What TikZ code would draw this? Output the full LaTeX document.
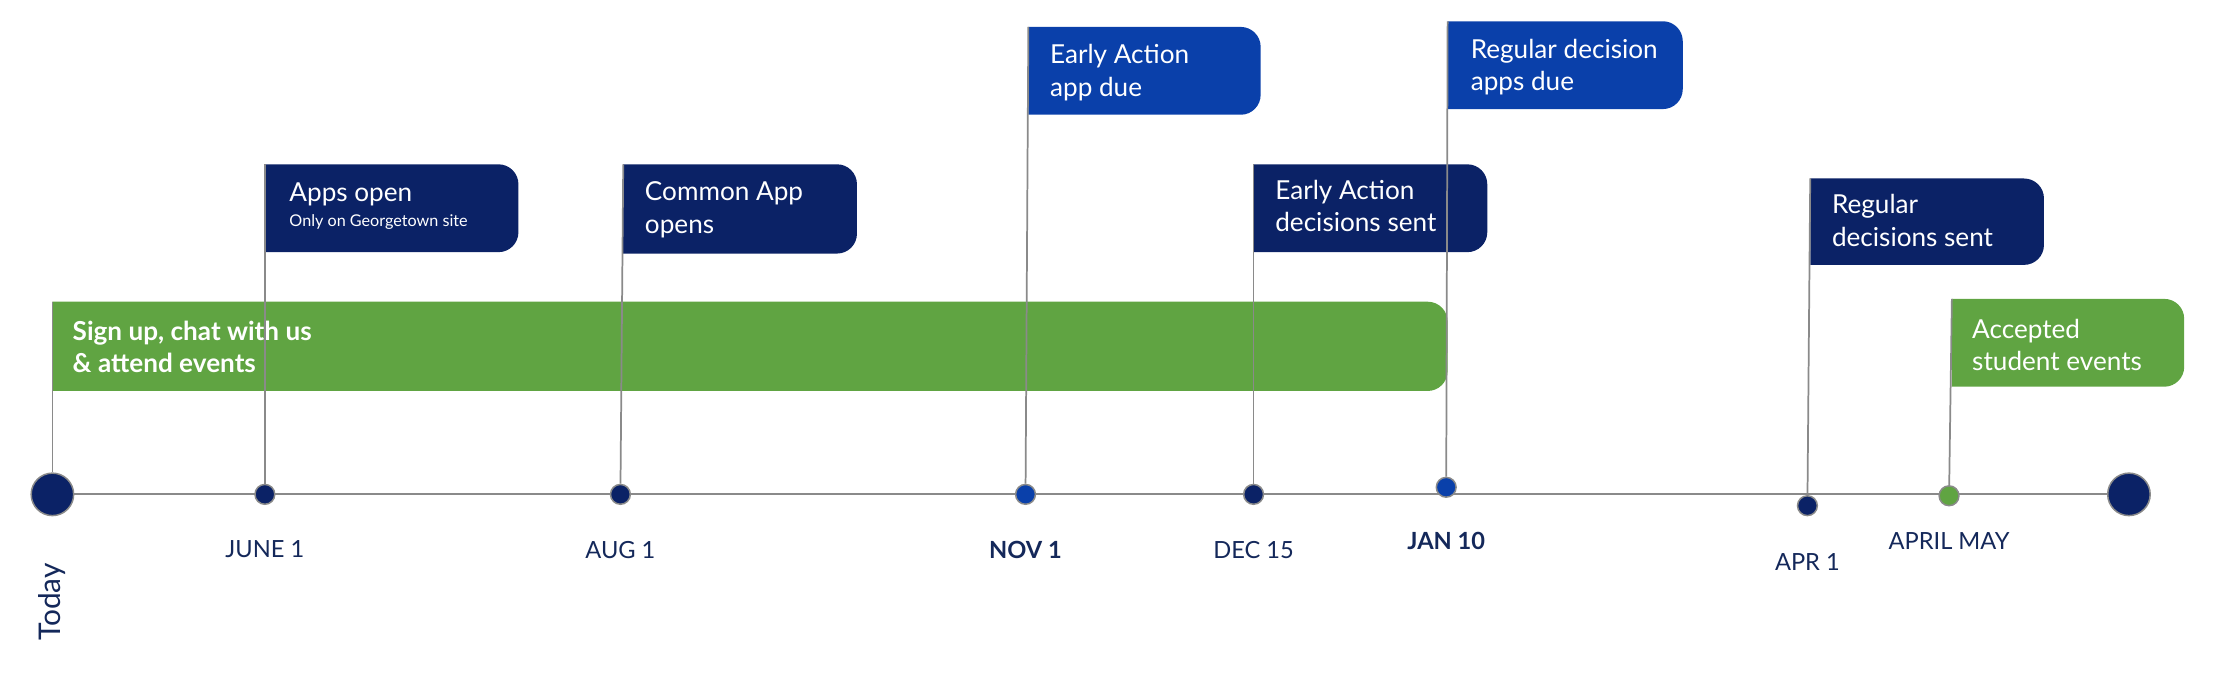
\documentclass[tikz,border=0pt]{standalone}
\usepackage{fontspec}
\setmainfont{Lato}
\definecolor{navy}{HTML}{0B2266}
\definecolor{royal}{HTML}{0A40AA}
\definecolor{leaf}{HTML}{60A442}
\definecolor{axis}{HTML}{8A8A8A}
\definecolor{ink}{HTML}{14285A}
\tikzset{
  dot/.style={circle, draw=axis, line width=0.6pt, inner sep=0pt, minimum size=#1},
  date/.style={text=ink, font=\fontsize{9.5}{11}\selectfont},
  flagtext/.style={anchor=north west, align=left, text=white, inner sep=0pt, font=\fontsize{10.5}{13}\selectfont},
  pole/.style={draw=axis, line width=0.7pt}
}
\newcommand{\flagbox}[5]{% x, y, w, h, colour
  \fill[#5] (#1,#2) [rounded corners=8pt] -- ++(#3,0) -- ++(0,#4) [sharp corners] -- (#1,#2+#4) -- cycle;}
\begin{document}
\begin{tikzpicture}[x=0.02cm, y=-0.02cm]
  \useasboundingbox (0,0) rectangle (1568,488);
  % Axis
  \coordinate (start) at (37,349);
  \coordinate (end) at (1503,349);
  \draw[axis, line width=0.8pt] (start) -- (end);
  % Dots
  \node (today) [dot=0.6cm, fill=navy] at (37,349) {};
  \node (last) [dot=0.6cm, fill=navy] at (1503,349) {};
  \node (d-jun) [dot=0.28cm, fill=navy] at (187,349) {};
  \node (d-aug) [dot=0.28cm, fill=navy] at (438,349) {};
  \node (d-nov) [dot=0.28cm, fill=royal] at (724,349) {};
  \node (d-dec) [dot=0.28cm, fill=navy] at (885,349) {};
  \node (d-jan) [dot=0.28cm, fill=royal] at (1021,344) {};
  \node (d-apr) [dot=0.28cm, fill=navy] at (1276,357) {};
  \node (d-may) [dot=0.28cm, fill=leaf] at (1376,350) {};
  % Dates
  \node (l-today) [date, rotate=90, font=\fontsize{12}{14}\selectfont] at (37,425) {Today};
  \node (l-jun) [date] at (187,388) {JUNE 1};
  \node (l-aug) [date] at (438,388) {AUG 1};
  \node (l-nov) [date, font=\fontsize{9.5}{11}\bfseries] at (724,388) {NOV 1};
  \node (l-dec) [date] at (885,388) {DEC 15};
  \node (l-jan) [date, font=\fontsize{9.5}{11}\bfseries] at (1021,382) {JAN 10};
  \node (l-apr) [date] at (1276,397) {APR 1};
  \node (l-may) [date] at (1376,382) {APRIL MAY};
  % Flags
  \flagbox{37}{213}{985}{63}{leaf}
  \node (f-sign) [flagtext, font=\fontsize{10.5}{13}\bfseries] at (51,226) {Sign up, chat with us\\\& attend events};
  \flagbox{187}{116}{179}{62}{navy}
  \node (f-apps) [flagtext] at (204,129) {Apps open\\[-3pt]{\fontsize{6.5}{8}\selectfont Only on Georgetown site}};
  \flagbox{440}{116}{165}{63}{navy}
  \node (f-common) [flagtext] at (455,128) {Common App\\opens};
  \flagbox{726}{19}{164}{62}{royal}
  \node (f-ea) [flagtext] at (741,31) {Early Action\\app due};
  \flagbox{885}{116}{165}{62}{navy}
  \node (f-ead) [flagtext] at (900,127) {Early Action\\decisions sent};
  \flagbox{1022}{15}{166}{62}{royal}
  \node (f-rd) [flagtext] at (1038,27) {Regular decision\\apps due};
  \flagbox{1278}{126}{165}{61}{navy}
  \node (f-rds) [flagtext] at (1293,137) {Regular\\decisions sent};
  \flagbox{1378}{211}{164}{62}{leaf}
  \node (f-acc) [flagtext] at (1392,225) {Accepted\\student events};
  % Poles
  \coordinate (p-sign) at (37,213);
  \coordinate (p-apps) at (187,116);
  \coordinate (p-common) at (440,116);
  \coordinate (p-ea) at (726,19);
  \coordinate (p-ead) at (885,116);
  \coordinate (p-rd) at (1022,15);
  \coordinate (p-rds) at (1278,126);
  \coordinate (p-acc) at (1378,211);
  \draw[pole] (p-sign) -- (today);
  \draw[pole] (p-apps) -- (d-jun);
  \draw[pole] (p-common) -- (d-aug);
  \draw[pole] (p-ea) -- (d-nov);
  \draw[pole] (p-ead) -- (d-dec);
  \draw[pole] (p-rd) -- (d-jan);
  \draw[pole] (p-rds) -- (d-apr);
  \draw[pole] (p-acc) -- (d-may);
\end{tikzpicture}
\end{document}
